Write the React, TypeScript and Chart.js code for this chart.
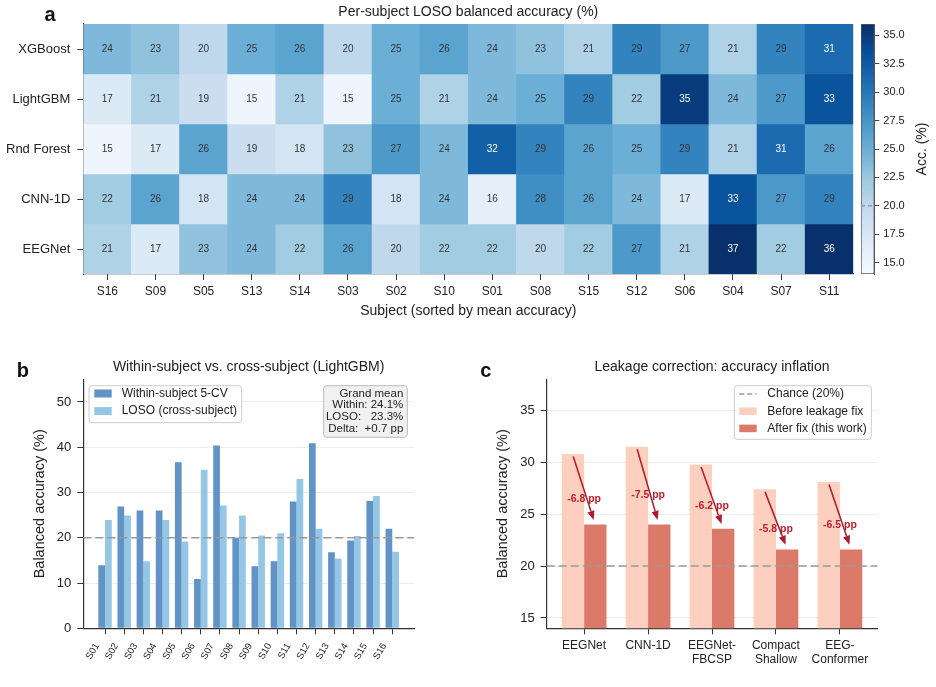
import React, { useEffect, useRef } from 'react';
import { Chart, registerables } from 'chart.js';

Chart.register(...registerables);

const FONT = '"Liberation Sans", Arial, Helvetica, sans-serif';
Chart.defaults.font.family = FONT;
Chart.defaults.color = '#222';

// ---------- a: per-subject LOSO balanced accuracy ----------
const heatSubjects = ['S16', 'S09', 'S05', 'S13', 'S14', 'S03', 'S02', 'S10', 'S01', 'S08', 'S15', 'S12', 'S06', 'S04', 'S07', 'S11'];
const heatModels = ['XGBoost', 'LightGBM', 'Rnd Forest', 'CNN-1D', 'EEGNet'];
const accXGBoost = [24, 23, 20, 25, 26, 20, 25, 26, 24, 23, 21, 29, 27, 21, 29, 31];
const accLightGBM = [17, 21, 19, 15, 21, 15, 25, 21, 24, 25, 29, 22, 35, 24, 27, 33];
const accRndForest = [15, 17, 26, 19, 18, 23, 27, 24, 32, 29, 26, 25, 29, 21, 31, 26];
const accCNN1D = [22, 26, 18, 24, 24, 29, 18, 24, 16, 28, 26, 24, 17, 33, 27, 29];
const accEEGNet = [21, 17, 23, 24, 22, 26, 20, 22, 22, 20, 22, 27, 21, 37, 22, 36];
const heatRows = [accXGBoost, accLightGBM, accRndForest, accCNN1D, accEEGNet];
const colorbarMin = 14;
const colorbarMax = 36;
const colorbarTicks = [15, 17.5, 20, 22.5, 25, 27.5, 30, 32.5, 35];
const chanceLevel = 20;

// ---------- b: within-subject vs LOSO (LightGBM) ----------
const subjects = ['S01', 'S02', 'S03', 'S04', 'S05', 'S06', 'S07', 'S08', 'S09', 'S10', 'S11', 'S12', 'S13', 'S14', 'S15', 'S16'];
const withinCV = [13.9, 26.9, 26.0, 26.0, 36.7, 10.9, 40.4, 20.0, 13.7, 14.8, 28.0, 40.9, 16.8, 19.4, 28.1, 22.0];
const losoCV = [23.9, 24.9, 14.8, 23.9, 19.2, 35.0, 27.1, 24.9, 20.5, 21.0, 33.0, 22.0, 15.4, 20.4, 29.2, 16.9];
const panelBTicks = [0, 10, 20, 30, 40, 50];
const grandMeanLines = ['Grand mean', 'Within: 24.1%', 'LOSO:   23.3%', 'Delta:  +0.7 pp'];

// ---------- c: leakage correction ----------
const leakModels = [['EEGNet'], ['CNN-1D'], ['EEGNet-', 'FBCSP'], ['Compact', 'Shallow'], ['EEG-', 'Conformer']];
const beforeFix = [30.8, 31.5, 29.8, 27.4, 28.1];
const afterFix = [24.0, 24.0, 23.6, 21.6, 21.6];
const panelCTicks = [15, 20, 25, 30, 35];

// palette
const BLUES = ['#f7fbff', '#deebf7', '#c6dbef', '#9ecae1', '#6baed6', '#4292c6', '#2171b5', '#08519c', '#08306b'];
const WITHIN_COLOR = 'rgb(97,147,199)';
const LOSO_COLOR = 'rgb(147,199,229)';
const BEFORE_COLOR = 'rgb(253,207,190)';
const AFTER_COLOR = 'rgb(220,122,105)';
const ARROW_COLOR = 'rgb(178,24,43)';
const AXIS_COLOR = '#333';
const GRID_FAINT = 'rgba(0,0,0,0.07)';

function hexToRgb(h: string) {
  const n = parseInt(h.slice(1), 16);
  return [(n >> 16) & 255, (n >> 8) & 255, n & 255];
}

function blues(v: number) {
  let t = (v - colorbarMin) / (colorbarMax - colorbarMin);
  t = Math.max(0, Math.min(1, t));
  const p = t * (BLUES.length - 1);
  const i = Math.min(Math.floor(p), BLUES.length - 2);
  const f = p - i;
  const a = hexToRgb(BLUES[i]);
  const b = hexToRgb(BLUES[i + 1]);
  const c = a.map((av, k) => Math.round(av + (b[k] - av) * f));
  return `rgb(${c[0]},${c[1]},${c[2]})`;
}

function drawText(
  ctx: CanvasRenderingContext2D,
  str: string,
  x: number,
  y: number,
  font: string,
  color = '#222',
  align: CanvasTextAlign = 'center',
  baseline: CanvasTextBaseline = 'middle',
  rot = 0
) {
  ctx.save();
  ctx.font = font;
  ctx.fillStyle = color;
  ctx.textAlign = align;
  ctx.textBaseline = baseline;
  ctx.translate(x, y);
  if (rot) ctx.rotate(rot);
  ctx.fillText(str, 0, 0);
  ctx.restore();
}

function chanceLine(chart: any) {
  const { ctx, chartArea: ca, scales } = chart;
  const py = scales.y.getPixelForValue(chanceLevel);
  ctx.save();
  ctx.strokeStyle = '#999';
  ctx.lineWidth = 1.5;
  ctx.setLineDash([8, 4]);
  ctx.beginPath();
  ctx.moveTo(ca.left, py);
  ctx.lineTo(ca.right, py);
  ctx.stroke();
  ctx.restore();
}

function roundBox(ctx: CanvasRenderingContext2D, x: number, y: number, w: number, h: number, fill: string, stroke: string) {
  ctx.save();
  ctx.beginPath();
  if ((ctx as any).roundRect) (ctx as any).roundRect(x, y, w, h, 3);
  else ctx.rect(x, y, w, h);
  ctx.fillStyle = fill;
  ctx.fill();
  ctx.strokeStyle = stroke;
  ctx.lineWidth = 1;
  ctx.stroke();
  ctx.restore();
}

function drawArrow(ctx: CanvasRenderingContext2D, x1: number, y1: number, x2: number, y2: number, color: string) {
  const ang = Math.atan2(y2 - y1, x2 - x1);
  const hl = 9;
  const hw = 3.6;
  const bx = x2 - hl * Math.cos(ang);
  const by = y2 - hl * Math.sin(ang);
  ctx.save();
  ctx.strokeStyle = color;
  ctx.fillStyle = color;
  ctx.lineWidth = 1.5;
  ctx.beginPath();
  ctx.moveTo(x1, y1);
  ctx.lineTo(bx, by);
  ctx.stroke();
  ctx.beginPath();
  ctx.moveTo(x2, y2);
  ctx.lineTo(bx + hw * Math.sin(ang), by - hw * Math.cos(ang));
  ctx.lineTo(bx - hw * Math.sin(ang), by + hw * Math.cos(ang));
  ctx.closePath();
  ctx.fill();
  ctx.restore();
}

const tickGrid = (extra: any = {}) => ({
  display: true,
  drawOnChartArea: false,
  offset: false,
  tickLength: 6,
  tickColor: AXIS_COLOR,
  tickWidth: 1,
  ...extra,
});
const axisBorder = { display: true, color: AXIS_COLOR, width: 1.2 };

function heatmapConfig(): any {
  return {
    type: 'bar',
    data: {
      labels: heatSubjects,
      datasets: heatRows.map((row, r) => ({
        label: heatModels[r],
        data: row.map(() => [r - 0.5, r + 0.5]),
        backgroundColor: row.map((v) => blues(v)),
        grouped: false,
        barPercentage: 1,
        categoryPercentage: 1,
        borderWidth: 0,
      })),
    },
    options: {
      responsive: false,
      animation: false,
      events: [],
      layout: { padding: { left: 0, top: 24, right: 1.7, bottom: 0 } },
      plugins: { legend: { display: false }, tooltip: { enabled: false } },
      scales: {
        x: {
          type: 'category',
          offset: true,
          grid: tickGrid(),
          border: axisBorder,
          ticks: { font: { size: 12 }, color: '#222', padding: 4, maxRotation: 0 },
          title: {
            display: true,
            text: 'Subject (sorted by mean accuracy)',
            font: { size: 14 },
            color: '#222',
            padding: { top: 0, bottom: 10 },
          },
          afterFit: (s: any) => {
            s.height = 56;
          },
        },
        y: {
          type: 'linear',
          min: -0.5,
          max: 4.5,
          reverse: true,
          afterBuildTicks: (s: any) => {
            s.ticks = heatModels.map((_, i) => ({ value: i }));
          },
          ticks: { callback: (v: number) => heatModels[v], font: { size: 13 }, color: '#222', padding: 7 },
          grid: tickGrid(),
          border: axisBorder,
          afterFit: (s: any) => {
            s.width = 83.3;
          },
        },
      },
    },
    plugins: [
      {
        id: 'heatLabels',
        afterDatasetsDraw(chart: any) {
          const ctx = chart.ctx;
          heatRows.forEach((row, r) => {
            const meta = chart.getDatasetMeta(r);
            meta.data.forEach((bar: any, c: number) => {
              const p = bar.getCenterPoint();
              drawText(ctx, String(row[c]), p.x, p.y, `10px ${FONT}`, row[c] >= 30 ? '#fff' : '#333');
            });
          });
        },
        afterDraw(chart: any) {
          const { ctx, chartArea: ca } = chart;
          drawText(ctx, 'Per-subject LOSO balanced accuracy (%)', (ca.left + ca.right) / 2, ca.top - 11.5, `14px ${FONT}`);
          drawText(ctx, 'a', 50, 20.7, `bold 20px ${FONT}`, '#111', 'center', 'alphabetic');
        },
      },
    ],
  };
}

function colorbarConfig(): any {
  return {
    type: 'bar',
    data: {
      labels: [''],
      datasets: [
        {
          data: [[colorbarMin, colorbarMax]],
          backgroundColor: (c: any) => {
            const { chart } = c;
            const { ctx, chartArea, scales } = chart;
            if (!chartArea || !scales.y) return BLUES[4];
            const g = ctx.createLinearGradient(0, scales.y.getPixelForValue(colorbarMin), 0, scales.y.getPixelForValue(colorbarMax));
            BLUES.forEach((col, i) => g.addColorStop(i / (BLUES.length - 1), col));
            return g;
          },
          barPercentage: 1,
          categoryPercentage: 1,
          borderWidth: 1,
          borderColor: '#555',
          borderSkipped: false,
        },
      ],
    },
    options: {
      responsive: false,
      animation: false,
      events: [],
      layout: { padding: { left: 6, top: 24, right: 0, bottom: 56 } },
      plugins: { legend: { display: false }, tooltip: { enabled: false } },
      scales: {
        x: { display: false },
        y: {
          position: 'right',
          min: colorbarMin,
          max: colorbarMax,
          afterBuildTicks: (s: any) => {
            s.ticks = colorbarTicks.map((v) => ({ value: v }));
          },
          ticks: { callback: (v: number) => Number(v).toFixed(1), font: { size: 11 }, color: '#222', padding: 4 },
          grid: { display: true, drawOnChartArea: false, tickLength: 5, tickColor: '#444' },
          border: { display: true, color: '#555', width: 1 },
          afterFit: (s: any) => {
            s.width = 61.7;
          },
        },
      },
    },
    plugins: [
      {
        id: 'cbExtras',
        afterDatasetsDraw(chart: any) {
          const { ctx, chartArea: ca, scales } = chart;
          const py = scales.y.getPixelForValue(chanceLevel);
          ctx.save();
          ctx.strokeStyle = '#999';
          ctx.lineWidth = 1.5;
          ctx.setLineDash([4, 3]);
          ctx.beginPath();
          ctx.moveTo(ca.left, py);
          ctx.lineTo(ca.right, py);
          ctx.stroke();
          ctx.restore();
        },
        afterDraw(chart: any) {
          const { ctx, chartArea: ca } = chart;
          drawText(ctx, 'Acc. (%)', 67, (ca.top + ca.bottom) / 2, `14px ${FONT}`, '#222', 'center', 'middle', -Math.PI / 2);
        },
      },
    ],
  };
}

function panelBConfig(): any {
  return {
    type: 'bar',
    data: {
      datasets: [
        {
          label: 'Within-subject 5-CV',
          data: withinCV.map((v, i) => ({ x: i, y: v })),
          backgroundColor: WITHIN_COLOR,
          categoryPercentage: 0.7,
          barPercentage: 1,
          borderWidth: 0,
        },
        {
          label: 'LOSO (cross-subject)',
          data: losoCV.map((v, i) => ({ x: i, y: v })),
          backgroundColor: LOSO_COLOR,
          categoryPercentage: 0.7,
          barPercentage: 1,
          borderWidth: 0,
        },
      ],
    },
    options: {
      responsive: false,
      animation: false,
      events: [],
      layout: { padding: { left: 0, top: 49.3, right: 56, bottom: 0 } },
      plugins: { legend: { display: false }, tooltip: { enabled: false } },
      scales: {
        x: {
          type: 'linear',
          min: -1.135,
          max: 16.135,
          offset: false,
          afterBuildTicks: (s: any) => {
            s.ticks = subjects.map((_, i) => ({ value: i }));
          },
          ticks: {
            callback: (v: number) => subjects[v],
            autoSkip: false,
            maxRotation: 60,
            minRotation: 60,
            font: { size: 9.5 },
            color: '#222',
            padding: 7,
            labelOffset: -8,
          },
          grid: tickGrid(),
          border: axisBorder,
          afterFit: (s: any) => {
            s.height = 58.7;
          },
        },
        y: {
          min: 0,
          max: 55,
          afterBuildTicks: (s: any) => {
            s.ticks = panelBTicks.map((v) => ({ value: v }));
          },
          ticks: { font: { size: 13 }, color: '#222', padding: 6 },
          grid: { color: GRID_FAINT, tickColor: AXIS_COLOR, tickLength: 6 },
          border: axisBorder,
          title: {
            display: true,
            text: 'Balanced accuracy (%)',
            font: { size: 14.5 },
            color: '#222',
            padding: { top: 31, bottom: 0 },
          },
          afterFit: (s: any) => {
            s.width = 83.3;
          },
        },
      },
    },
    plugins: [
      {
        id: 'panelBExtras',
        afterDatasetsDraw(chart: any) {
          chanceLine(chart);
        },
        afterDraw(chart: any) {
          const { ctx, chartArea: ca } = chart;
          drawText(ctx, 'Within-subject vs. cross-subject (LightGBM)', (ca.left + ca.right) / 2, ca.top - 11.8, `14px ${FONT}`);
          drawText(ctx, 'b', 22.8, 46.7, `bold 20px ${FONT}`, '#111', 'center', 'alphabetic');

          // legend
          const lx = ca.left + 5.7;
          const ly = ca.top + 6.4;
          roundBox(ctx, lx, ly, 152.7, 37, 'rgba(255,255,255,0.85)', '#cccccc');
          const entries = [
            { label: chart.data.datasets[0].label, color: WITHIN_COLOR },
            { label: chart.data.datasets[1].label, color: LOSO_COLOR },
          ];
          entries.forEach((e, k) => {
            const cy = ly + 7.8 + k * 17.6;
            ctx.fillStyle = e.color;
            ctx.fillRect(lx + 5.3, cy - 4, 17.4, 8);
            drawText(ctx, e.label, lx + 32.7, cy, `12px ${FONT}`, '#222', 'left');
          });

          // grand-mean summary box
          const bw = 83.6;
          const bx = ca.right - 6.7 - bw;
          const by = ca.top + 6.4;
          roundBox(ctx, bx, by, bw, 51.6, 'rgba(240,240,240,0.9)', '#bbbbbb');
          grandMeanLines.forEach((line, k) => {
            drawText(ctx, line, bx + bw - 4, by + 7.8 + k * 11.8, `11.5px ${FONT}`, '#222', 'right');
          });
        },
      },
    ],
  };
}

function panelCConfig(): any {
  return {
    type: 'bar',
    data: {
      datasets: [
        {
          label: 'Before leakage fix',
          data: beforeFix.map((v, i) => ({ x: i, y: v })),
          backgroundColor: BEFORE_COLOR,
          categoryPercentage: 0.7,
          barPercentage: 1,
          borderWidth: 0,
        },
        {
          label: 'After fix (this work)',
          data: afterFix.map((v, i) => ({ x: i, y: v })),
          backgroundColor: AFTER_COLOR,
          categoryPercentage: 0.7,
          barPercentage: 1,
          borderWidth: 0,
        },
      ],
    },
    options: {
      responsive: false,
      animation: false,
      events: [],
      layout: { padding: { left: 0, top: 49.3, right: 58.7, bottom: 0 } },
      plugins: { legend: { display: false }, tooltip: { enabled: false } },
      scales: {
        x: {
          type: 'linear',
          min: -0.585,
          max: 4.585,
          offset: false,
          afterBuildTicks: (s: any) => {
            s.ticks = leakModels.map((_, i) => ({ value: i }));
          },
          ticks: {
            callback: (v: number) => leakModels[v],
            autoSkip: false,
            maxRotation: 0,
            font: { size: 12, lineHeight: 1.17 },
            color: '#222',
            padding: 4.5,
          },
          grid: tickGrid(),
          border: axisBorder,
          afterFit: (s: any) => {
            s.height = 58.7;
          },
        },
        y: {
          min: 14,
          max: 38,
          afterBuildTicks: (s: any) => {
            s.ticks = panelCTicks.map((v) => ({ value: v }));
          },
          ticks: { font: { size: 13 }, color: '#222', padding: 6 },
          grid: { color: GRID_FAINT, tickColor: AXIS_COLOR, tickLength: 6 },
          border: axisBorder,
          title: {
            display: true,
            text: 'Balanced accuracy (%)',
            font: { size: 14.5 },
            color: '#222',
            padding: { top: 24.6, bottom: 0 },
          },
          afterFit: (s: any) => {
            s.width = 76.7;
          },
        },
      },
    },
    plugins: [
      {
        id: 'panelCExtras',
        afterDatasetsDraw(chart: any) {
          const { ctx, scales } = chart;
          const { x, y } = scales;
          chanceLine(chart);
          beforeFix.forEach((b, i) => {
            const a = afterFix[i];
            const delta = (a - b).toFixed(1);
            drawText(ctx, `${delta} pp`, x.getPixelForValue(i), y.getPixelForValue((a + b) / 2 - 0.9), `bold 10.5px ${FONT}`, 'rgb(192,32,44)');
            drawArrow(
              ctx,
              x.getPixelForValue(i - 0.17),
              y.getPixelForValue(b - 0.25),
              x.getPixelForValue(i + 0.15),
              y.getPixelForValue(a + 0.45),
              ARROW_COLOR
            );
          });
        },
        afterDraw(chart: any) {
          const { ctx, chartArea: ca } = chart;
          drawText(ctx, 'Leakage correction: accuracy inflation', (ca.left + ca.right) / 2, ca.top - 11.8, `14px ${FONT}`);
          drawText(ctx, 'c', 15.8, 46.5, `bold 20px ${FONT}`, '#111', 'center', 'alphabetic');

          // legend
          const bw = 137;
          const lx = ca.right - 6 - bw;
          const ly = ca.top + 6.4;
          roundBox(ctx, lx, ly, bw, 53.6, 'rgba(255,255,255,0.85)', '#cccccc');
          const rowY = (k: number) => ly + 8.3 + k * 17.2;
          // chance entry
          ctx.save();
          ctx.strokeStyle = '#999';
          ctx.lineWidth = 1.5;
          ctx.setLineDash([5, 3]);
          ctx.beginPath();
          ctx.moveTo(lx + 5, rowY(0));
          ctx.lineTo(lx + 22.4, rowY(0));
          ctx.stroke();
          ctx.restore();
          drawText(ctx, 'Chance (20%)', lx + 33, rowY(0), `12px ${FONT}`, '#222', 'left');
          [BEFORE_COLOR, AFTER_COLOR].forEach((col, k) => {
            const cy = rowY(k + 1);
            ctx.fillStyle = col;
            ctx.fillRect(lx + 5, cy - 3.8, 17.4, 7.6);
            drawText(ctx, chart.data.datasets[k].label, lx + 33, cy, `12px ${FONT}`, '#222', 'left');
          });
        },
      },
    ],
  };
}

export default function App() {
  const heatRef = useRef<HTMLCanvasElement | null>(null);
  const cbRef = useRef<HTMLCanvasElement | null>(null);
  const bRef = useRef<HTMLCanvasElement | null>(null);
  const cRef = useRef<HTMLCanvasElement | null>(null);

  useEffect(() => {
    const charts: Chart[] = [];
    if (heatRef.current) charts.push(new Chart(heatRef.current, heatmapConfig()));
    if (cbRef.current) charts.push(new Chart(cbRef.current, colorbarConfig()));
    if (bRef.current) charts.push(new Chart(bRef.current, panelBConfig()));
    if (cRef.current) charts.push(new Chart(cRef.current, panelCConfig()));
    return () => charts.forEach((c) => c.destroy());
  }, []);

  const abs = (left: number, top: number, width: number, height: number): React.CSSProperties => ({
    position: 'absolute',
    left,
    top,
    width,
    height,
  });

  return (
    <div style={{ position: 'absolute', left: 0, top: 0, width: 936, height: 687, background: '#fff', overflow: 'hidden' }}>
      <div style={abs(0, 0, 855, 330)}>
        <canvas ref={heatRef} width={855} height={330} style={{ display: 'block' }} />
      </div>
      <div style={abs(855, 0, 81, 330)}>
        <canvas ref={cbRef} width={81} height={330} style={{ display: 'block' }} />
      </div>
      <div style={abs(0, 330, 470, 357)}>
        <canvas ref={bRef} width={470} height={357} style={{ display: 'block' }} />
      </div>
      <div style={abs(470, 330, 466, 357)}>
        <canvas ref={cRef} width={466} height={357} style={{ display: 'block' }} />
      </div>
    </div>
  );
}
